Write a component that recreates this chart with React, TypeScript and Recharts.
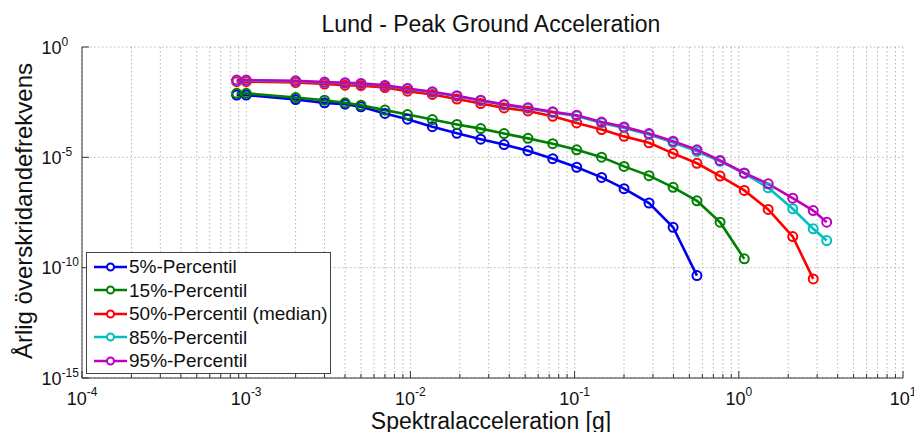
import React from 'react';
import { LineChart, Line, XAxis, YAxis, CartesianGrid, Legend } from 'recharts';

// Spectral acceleration [g] at which the hazard curves are evaluated
const accel = [0.000875, 0.001, 0.002, 0.003, 0.004, 0.005, 0.007, 0.0096, 0.0136, 0.0192, 0.0268, 0.0372, 0.052, 0.0736, 0.103, 0.146, 0.2, 0.284, 0.398, 0.556, 0.769, 1.08, 1.51, 2.13, 2.84, 3.43];

// Annual exceedance frequency per percentile
const p5 = [6.61e-3, 6.61e-3, 4.17e-3, 2.95e-3, 2.57e-3, 1.95e-3, 9.77e-4, 5.37e-4, 2.45e-4, 1.23e-4, 6.61e-5, 3.80e-5, 2.00e-5, 8.71e-6, 3.55e-6, 1.23e-6, 3.80e-7, 8.51e-8, 6.76e-9, 4.37e-11];
const p15 = [7.94e-3, 7.94e-3, 5.13e-3, 3.89e-3, 2.95e-3, 2.29e-3, 1.38e-3, 8.71e-4, 5.13e-4, 3.09e-4, 2.00e-4, 1.20e-4, 7.24e-5, 4.17e-5, 2.19e-5, 1.02e-5, 3.89e-6, 1.48e-6, 4.37e-7, 1.07e-7, 1.15e-8, 2.51e-10];
const p50 = [2.69e-2, 2.69e-2, 2.45e-2, 2.09e-2, 1.86e-2, 1.78e-2, 1.45e-2, 1.00e-2, 7.08e-3, 4.37e-3, 2.75e-3, 1.74e-3, 1.26e-3, 7.24e-4, 3.63e-4, 1.82e-4, 8.91e-5, 4.57e-5, 1.51e-5, 5.37e-6, 1.41e-6, 3.16e-7, 4.37e-8, 2.57e-9, 3.09e-11];
const p85 = [3.02e-2, 3.02e-2, 2.82e-2, 2.45e-2, 2.29e-2, 2.14e-2, 1.74e-2, 1.26e-2, 8.91e-3, 5.89e-3, 3.63e-3, 2.34e-3, 1.66e-3, 1.07e-3, 7.41e-4, 3.63e-4, 2.14e-4, 1.07e-4, 4.68e-5, 1.86e-5, 6.61e-6, 1.86e-6, 4.17e-7, 4.68e-8, 5.75e-9, 1.70e-9];
const p95 = [3.16e-2, 3.16e-2, 2.95e-2, 2.57e-2, 2.40e-2, 2.24e-2, 1.82e-2, 1.32e-2, 9.33e-3, 6.17e-3, 3.89e-3, 2.51e-3, 1.78e-3, 1.15e-3, 8.13e-4, 3.98e-4, 2.40e-4, 1.20e-4, 5.37e-5, 2.19e-5, 7.24e-6, 1.95e-6, 6.31e-7, 1.41e-7, 3.89e-8, 1.15e-8];

const seriesNames = ['5%-Percentil', '15%-Percentil', '50%-Percentil (median)', '85%-Percentil', '95%-Percentil'];
const seriesValues = [p5, p15, p50, p85, p95];
const seriesColors = ['#0000ee', '#008000', '#ff0000', '#00bfbf', '#bf00bf'];

// Axis ticks
const xDecades = [1e-4, 1e-3, 1e-2, 1e-1, 1, 10];
const xExponents = ['-4', '-3', '-2', '-1', '0', '1'];
const xMinorMultipliers = [2, 3, 4, 5, 6, 7, 8, 9];
const yTicks = [1e-15, 1e-10, 1e-5, 1];
const yExponents = ['-15', '-10', '-5', '0'];

const titleText = 'Lund - Peak Ground Acceleration';
const xLabelText = 'Spektralacceleration [g]';
const yLabelText = 'Årlig överskridandefrekvens';

const xTicks: number[] = [];
xDecades.forEach((d, i) => {
  xTicks.push(d);
  if (i < xDecades.length - 1) xMinorMultipliers.forEach((m) => xTicks.push(m * d));
});

const seriesData = seriesValues.map((vals) => vals.map((v, i) => ({ x: accel[i], y: v })));

const FONT = '"Liberation Sans", Arial, Helvetica, sans-serif';
const AXIS_COLOR = '#333';
const TEXT_COLOR = '#111';

const XTickBottom = (props: any) => {
  const { x, y, payload } = props;
  const i = xDecades.indexOf(payload.value);
  const major = i >= 0;
  return (
    <g>
      <line x1={x} x2={x} y1={y} y2={y - (major ? 7 : 4)} stroke={AXIS_COLOR} strokeWidth={1} />
      {major && (
        <text x={x} y={y + 27} textAnchor="middle" fontSize={18} fill={TEXT_COLOR} fontFamily={FONT}>
          10<tspan dy={-9} fontSize={12}>{xExponents[i]}</tspan>
        </text>
      )}
    </g>
  );
};

const XTickTop = (props: any) => {
  const { x, y, payload } = props;
  const major = xDecades.indexOf(payload.value) >= 0;
  return <line x1={x} x2={x} y1={y} y2={y + (major ? 7 : 4)} stroke={AXIS_COLOR} strokeWidth={1} />;
};

const YTickLeft = (props: any) => {
  const { x, y, payload } = props;
  const i = yTicks.indexOf(payload.value);
  return (
    <g>
      <line x1={x} x2={x + 7} y1={y} y2={y} stroke={AXIS_COLOR} strokeWidth={1} />
      <text x={x - 40.5} y={y + 6.5} textAnchor="start" fontSize={18} fill={TEXT_COLOR} fontFamily={FONT}>
        10<tspan dy={-8} fontSize={12}>{yExponents[i]}</tspan>
      </text>
    </g>
  );
};

const YTickRight = (props: any) => {
  const { x, y } = props;
  return <line x1={x} x2={x - 7} y1={y} y2={y} stroke={AXIS_COLOR} strokeWidth={1} />;
};

const renderLegend = (props: any) => {
  const payload = [...(props.payload || [])].sort(
    (a: any, b: any) => seriesNames.indexOf(a.value) - seriesNames.indexOf(b.value)
  );
  return (
    <div
      style={{
        width: 245,
        height: 122,
        border: '1px solid #444',
        background: '#fff',
        boxSizing: 'border-box',
        padding: '2px 0 0 6px',
        fontFamily: FONT,
      }}
    >
      {payload.map((e: any) => (
        <div key={e.value} style={{ display: 'flex', alignItems: 'center', height: 23.5 }}>
          <svg width={35} height={12} style={{ display: 'block' }}>
            <line x1={1} x2={34} y1={6} y2={6} stroke={e.color} strokeWidth={2.5} />
            <circle cx={17.5} cy={6} r={3.5} fill="#fff" stroke={e.color} strokeWidth={2} />
          </svg>
          <span style={{ fontSize: 19, marginLeft: 1, color: TEXT_COLOR, whiteSpace: 'nowrap', lineHeight: '23px' }}>
            {e.value}
          </span>
        </div>
      ))}
    </div>
  );
};

export default function App() {
  return (
    <div style={{ position: 'absolute', left: 0, top: 0, width: 914, height: 432, background: '#fff' }}>
      <LineChart width={914} height={432} margin={{ top: 47, right: 11, bottom: 24, left: 0 }}>
        <CartesianGrid stroke="#b5b5b5" strokeDasharray="1.5 2.5" strokeWidth={1} />
        <XAxis
          dataKey="x"
          type="number"
          scale="log"
          domain={[1e-4, 10]}
          allowDataOverflow
          ticks={xTicks}
          interval={0}
          tickSize={0}
          tickMargin={0}
          height={30}
          tick={<XTickBottom />}
          axisLine={{ stroke: AXIS_COLOR }}
          tickLine={false}
        />
        <XAxis
          xAxisId="top"
          orientation="top"
          dataKey="x"
          type="number"
          scale="log"
          domain={[1e-4, 10]}
          allowDataOverflow
          ticks={xTicks}
          interval={0}
          tickSize={0}
          tickMargin={0}
          height={0}
          tick={<XTickTop />}
          axisLine={{ stroke: AXIS_COLOR }}
          tickLine={false}
        />
        <YAxis
          type="number"
          scale="log"
          domain={[1e-15, 1]}
          allowDataOverflow
          ticks={yTicks}
          interval={0}
          tickSize={0}
          tickMargin={0}
          width={82}
          tick={<YTickLeft />}
          axisLine={{ stroke: AXIS_COLOR }}
          tickLine={false}
        />
        <YAxis
          yAxisId="right"
          orientation="right"
          type="number"
          scale="log"
          domain={[1e-15, 1]}
          allowDataOverflow
          ticks={yTicks}
          interval={0}
          tickSize={0}
          tickMargin={0}
          width={0}
          tick={<YTickRight />}
          axisLine={{ stroke: AXIS_COLOR }}
          tickLine={false}
        />
        {seriesData.map((d, i) => (
          <Line
            key={seriesNames[i]}
            data={d}
            dataKey="y"
            name={seriesNames[i]}
            type="linear"
            stroke={seriesColors[i]}
            strokeWidth={2.6}
            dot={{ r: 4.5, stroke: seriesColors[i], strokeWidth: 2, fill: 'none' }}
            activeDot={false}
            isAnimationActive={false}
          />
        ))}
        <Legend
          layout="vertical"
          align="center"
          verticalAlign="middle"
          content={renderLegend}
          wrapperStyle={{ left: 86, top: 252, width: 245, height: 122, margin: 0, padding: 0 }}
        />
      </LineChart>
      <svg
        width={914}
        height={432}
        style={{ position: 'absolute', left: 0, top: 0, pointerEvents: 'none' }}
        fontFamily={FONT}
      >
        <text x={491} y={32} textAnchor="middle" fontSize={23} fill={TEXT_COLOR}>
          {titleText}
        </text>
        <text x={491} y={428.5} textAnchor="middle" fontSize={23} fill={TEXT_COLOR}>
          {xLabelText}
        </text>
        <text transform="translate(32, 211) rotate(-90)" textAnchor="middle" fontSize={24} fill={TEXT_COLOR}>
          {yLabelText}
        </text>
      </svg>
    </div>
  );
}
